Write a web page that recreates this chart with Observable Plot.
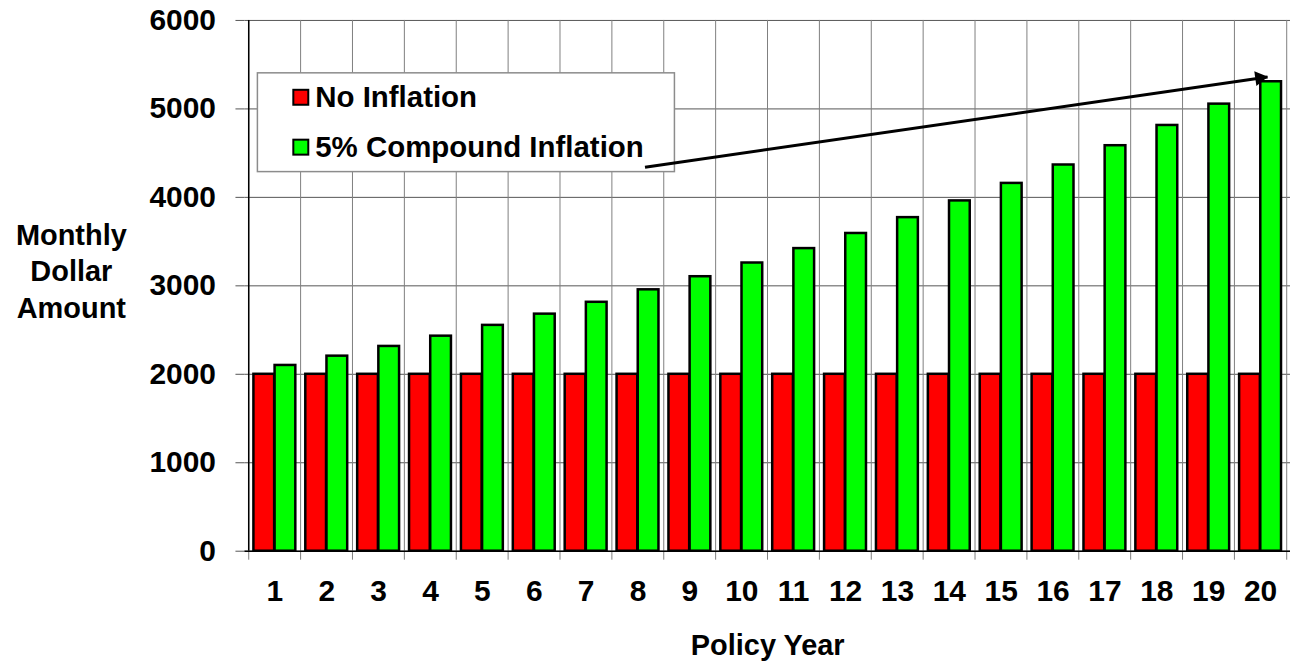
<!DOCTYPE html>
<html>
<head>
<meta charset="utf-8">
<script src="https://cdn.jsdelivr.net/npm/d3@7"></script>
<script src="https://cdn.jsdelivr.net/npm/@observablehq/plot@0.6"></script>
<style>
  html, body { margin: 0; padding: 0; background: white; overflow: hidden; }
  #chart { position: relative; width: 1290px; height: 665px; overflow: hidden; }
</style>
</head>
<body>
<div id="chart"></div>
<script>
// ---- data ----
const years = [1, 2, 3, 4, 5, 6, 7, 8, 9, 10, 11, 12, 13, 14, 15, 16, 17, 18, 19, 20];
const noInflation = [2000, 2000, 2000, 2000, 2000, 2000, 2000, 2000, 2000, 2000,
                     2000, 2000, 2000, 2000, 2000, 2000, 2000, 2000, 2000, 2000];
const compoundInflation = [2100, 2205, 2315, 2431, 2553, 2680, 2814, 2955, 3103, 3258,
                           3421, 3592, 3771, 3960, 4158, 4366, 4584, 4813, 5054, 5307];
const seriesNames = ["No Inflation", "5% Compound Inflation"];
const seriesColors = ["#FF0000", "#00FF00"];
const yTicks = [0, 1000, 2000, 3000, 4000, 5000, 6000];
const yTitle = ["Monthly", "Dollar", "Amount"];
const xTitle = "Policy Year";
const arrowFrom = {year: 8, value: 4340};
const arrowTo = {year: 20, value: 5360};

// ---- layout ----
const W = 1293, H = 665;
const mL = 245, mR = 0, mT = 20, mB = 113;
const step = (W - mL - mR) / years.length;
const padInner = 0.19;
const bw = step * (1 - padInner);
const font = "'Liberation Sans', Arial, Helvetica, sans-serif";
const fs = 30;

const rows = years.map((y, i) => ({year: y, none: noInflation[i], comp: compoundInflation[i]}));

function legendMark() {
  const g = d3.create("svg:g").attr("font-family", font).attr("font-weight", "bold").attr("text-anchor", "start");
  g.append("rect")
    .attr("x", 258).attr("y", 73).attr("width", 418).attr("height", 99)
    .attr("fill", "white").attr("stroke", "#8c8c8c").attr("stroke-width", 1.5);
  seriesNames.forEach((name, i) => {
    const cy = 98 + i * 50;
    g.append("rect")
      .attr("x", 294).attr("y", cy - 8).attr("width", 15).attr("height", 15)
      .attr("fill", seriesColors[i]).attr("stroke", "black").attr("stroke-width", 2);
    g.append("text")
      .attr("x", 316).attr("y", cy + 9)
      .attr("font-size", 29.5).attr("fill", "black")
      .attr("text-anchor", "start")
      .text(name);
  });
  return g.node();
}

const chart = Plot.plot({
  width: W, height: H,
  marginLeft: mL, marginRight: mR, marginTop: mT, marginBottom: mB,
  style: {fontFamily: font, fontWeight: "bold", fontSize: fs + "px", color: "black", background: "white", overflow: "visible"},
  x: {type: "band", domain: years, paddingInner: padInner, paddingOuter: padInner / 2, label: null},
  y: {domain: [0, 6000], label: null},
  marks: [
    Plot.gridY(yTicks, {stroke: "#555", strokeOpacity: 1, strokeWidth: 1}),
    Plot.ruleX(years, {x: d => d, dx: -step / 2, stroke: "#808080", strokeWidth: 1, insetBottom: -9}),
    Plot.ruleX([years[years.length - 1]], {x: d => d, dx: step / 2, stroke: "#808080", strokeWidth: 1, insetBottom: -9}),
    Plot.barY(rows, {x: "year", y: "none", fill: seriesColors[0], stroke: "black", strokeWidth: 2.5, insetRight: bw / 2}),
    Plot.barY(rows, {x: "year", y: "comp", fill: seriesColors[1], stroke: "black", strokeWidth: 2.5, insetLeft: bw / 2}),
    Plot.ruleX([years[0]], {x: d => d, dx: -step / 2, stroke: "black", strokeWidth: 1.5}),
    Plot.ruleY([0], {stroke: "black", strokeWidth: 1.5}),
    Plot.axisY({ticks: yTicks, tickSize: 9, tickPadding: 20, tickFormat: d => String(d), stroke: "#555", fontSize: fs, fontWeight: "bold", label: null}),
    Plot.axisX({tickSize: 0, tickPadding: 29, fontSize: fs, fontWeight: "bold", label: null}),
    Plot.text([xTitle], {frameAnchor: "bottom", text: d => d, dy: 104, fontSize: 29, fontWeight: "bold"}),
    Plot.text([yTitle.join("\n")], {frameAnchor: "left", text: d => d, dx: -174, dy: -16, lineHeight: 1.25, fontSize: 29, fontWeight: "bold", textAnchor: "middle"}),
    legendMark,
    Plot.link([0], {x1: () => arrowFrom.year, y1: () => arrowFrom.value, x2: () => arrowTo.year, y2: () => arrowTo.value, dx: 7, stroke: "black", strokeWidth: 3}),
    Plot.dot([0], {x: () => arrowTo.year, y: () => arrowTo.value, dx: -1, dy: 1, symbol: "triangle", r: 5.5, fill: "black", stroke: "none", rotate: 81.8})
  ]
});
document.getElementById("chart").appendChild(chart);
</script>
</body>
</html>
